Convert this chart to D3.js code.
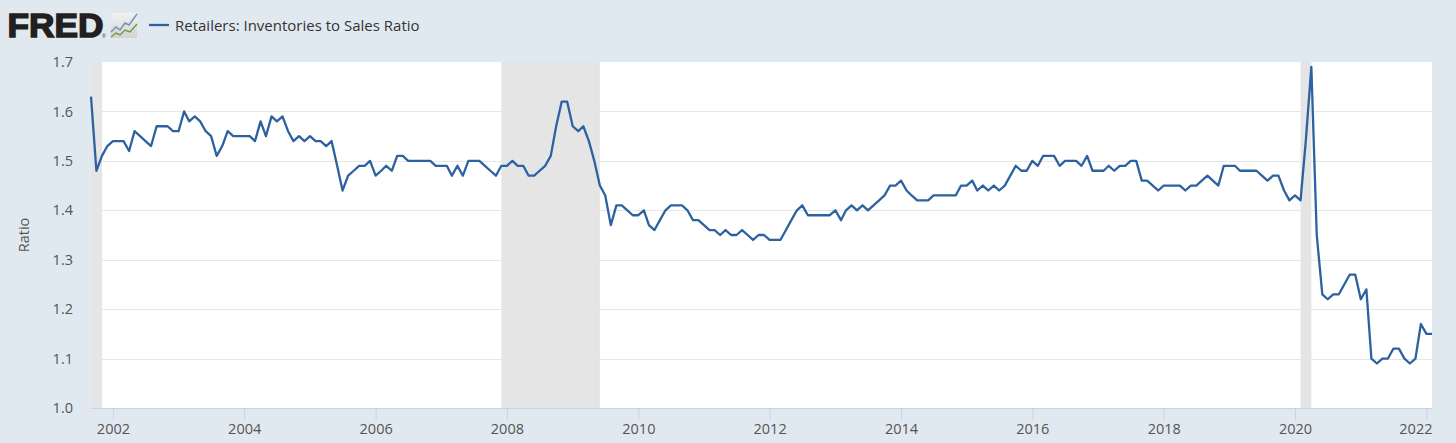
<!DOCTYPE html>
<html><head><meta charset="utf-8">
<script src="https://cdnjs.cloudflare.com/ajax/libs/d3/7.8.5/d3.min.js"></script>
<style>html,body{margin:0;padding:0;background:#e1e9f0;overflow:hidden}svg{display:block}</style>
</head><body><svg id="c" width="1456" height="443"></svg>
<script>
const seriesName = "Retailers: Inventories to Sales Ratio";
const yLabel = "Ratio";
const startMonth = [2001, 8];
const v2001 = [1.63,1.48,1.51,1.53];
const v2002 = [1.54,1.54,1.54,1.52,1.56,1.55,1.54,1.53,1.57,1.57,1.57,1.56];
const v2003 = [1.56,1.60,1.58,1.59,1.58,1.56,1.55,1.51,1.53,1.56,1.55,1.55];
const v2004 = [1.55,1.55,1.54,1.58,1.55,1.59,1.58,1.59,1.56,1.54,1.55,1.54];
const v2005 = [1.55,1.54,1.54,1.53,1.54,1.49,1.44,1.47,1.48,1.49,1.49,1.50];
const v2006 = [1.47,1.48,1.49,1.48,1.51,1.51,1.50,1.50,1.50,1.50,1.50,1.49];
const v2007 = [1.49,1.49,1.47,1.49,1.47,1.50,1.50,1.50,1.49,1.48,1.47,1.49];
const v2008 = [1.49,1.50,1.49,1.49,1.47,1.47,1.48,1.49,1.51,1.57,1.62,1.62];
const v2009 = [1.57,1.56,1.57,1.54,1.50,1.45,1.43,1.37,1.41,1.41,1.40,1.39];
const v2010 = [1.39,1.40,1.37,1.36,1.38,1.40,1.41,1.41,1.41,1.40,1.38,1.38];
const v2011 = [1.37,1.36,1.36,1.35,1.36,1.35,1.35,1.36,1.35,1.34,1.35,1.35];
const v2012 = [1.34,1.34,1.34,1.36,1.38,1.40,1.41,1.39,1.39,1.39,1.39,1.39];
const v2013 = [1.40,1.38,1.40,1.41,1.40,1.41,1.40,1.41,1.42,1.43,1.45,1.45];
const v2014 = [1.46,1.44,1.43,1.42,1.42,1.42,1.43,1.43,1.43,1.43,1.43,1.45];
const v2015 = [1.45,1.46,1.44,1.45,1.44,1.45,1.44,1.45,1.47,1.49,1.48,1.48];
const v2016 = [1.50,1.49,1.51,1.51,1.51,1.49,1.50,1.50,1.50,1.49,1.51,1.48];
const v2017 = [1.48,1.48,1.49,1.48,1.49,1.49,1.50,1.50,1.46,1.46,1.45,1.44];
const v2018 = [1.45,1.45,1.45,1.45,1.44,1.45,1.45,1.46,1.47,1.46,1.45,1.49];
const v2019 = [1.49,1.49,1.48,1.48,1.48,1.48,1.47,1.46,1.47,1.47,1.44,1.42];
const v2020 = [1.43,1.42,1.54,1.69,1.35,1.23,1.22,1.23,1.23,1.25,1.27,1.27];
const v2021 = [1.22,1.24,1.10,1.09,1.10,1.10,1.12,1.12,1.10,1.09,1.10,1.17];
const v2022 = [1.15,1.15];
const values = [].concat(v2001,v2002,v2003,v2004,v2005,v2006,v2007,v2008,v2009,v2010,v2011,v2012,v2013,v2014,v2015,v2016,v2017,v2018,v2019,v2020,v2021,v2022);
const recessions = [["2001-09-01","2001-11-01"],["2007-12-01","2009-06-01"],["2020-02-01","2020-04-01"]];
const xTickYears = [2002,2004,2006,2008,2010,2012,2014,2016,2018,2020,2022];
const yTicks = [1.0,1.1,1.2,1.3,1.4,1.5,1.6,1.7];

const font = "'Open Sans', sans-serif";
const L=91, R=1432, T=62, B=408;
const svg = d3.select("#c");
const data = values.map((v,i)=>({d:new Date(Date.UTC(startMonth[0],startMonth[1]+i,1)),v}));
const x = d3.scaleUtc().domain([data[0].d,data[data.length-1].d]).range([L,R]);
const y = d3.scaleLinear().domain([1.0,1.7]).range([B,T]);

svg.append("rect").attr("x",L).attr("y",T).attr("width",R-L).attr("height",B-T).attr("fill","#fff");

svg.append("g").selectAll("rect").data(recessions).join("rect")
  .attr("x",d=>x(new Date(d[0]+"T00:00:00Z"))).attr("y",T)
  .attr("width",d=>x(new Date(d[1]+"T00:00:00Z"))-x(new Date(d[0]+"T00:00:00Z")))
  .attr("height",B-T).attr("fill","#e5e5e5");

svg.append("g").selectAll("line").data(yTicks.slice(1,-1)).join("line")
  .attr("x1",L).attr("x2",R).attr("y1",d=>Math.round(y(d))+.5).attr("y2",d=>Math.round(y(d))+.5)
  .attr("stroke","#e6e6e6").attr("stroke-width",1);

// y axis labels
const yAxis = svg.append("g").attr("transform",`translate(${L},0)`)
  .call(d3.axisLeft(y).tickValues(yTicks).tickFormat(d3.format(".1f")).tickSize(0).tickPadding(18));
yAxis.select(".domain").remove();
yAxis.selectAll("text").attr("font-family",font).attr("font-size",14.5).attr("fill","#555").attr("dy",".32em");

// x axis
const xAxis = svg.append("g").attr("transform",`translate(0,${B})`)
  .call(d3.axisBottom(x).tickValues(xTickYears.map(t=>new Date(Date.UTC(t,0,1)))).tickFormat(d3.utcFormat("%Y")).tickSize(12).tickPadding(4));
xAxis.select(".domain").attr("stroke","#c6d3ea").attr("stroke-width",1).attr("d",`M${L},0.5H${R}`);
xAxis.selectAll(".tick line").attr("stroke","#c6d3ea");
xAxis.selectAll("text").attr("font-family",font).attr("font-size",14.5).attr("fill","#555");
// the last label stays inside the plot's right edge
xAxis.selectAll(".tick").filter((d,i)=>i===xTickYears.length-1).select("text").attr("text-anchor","end").attr("dx",R-x(new Date(Date.UTC(2022,0,1))));

svg.append("text").attr("transform","translate(29,235) rotate(-90)").attr("text-anchor","middle")
  .attr("font-family",font).attr("font-size",14.5).attr("fill","#555").text(yLabel);

svg.append("path").datum(data)
  .attr("d",d3.line().x(d=>x(d.d)).y(d=>y(d.v)))
  .attr("fill","none").attr("stroke","#2c62a0").attr("stroke-width",2.3).attr("stroke-linejoin","round");

// header: logo
svg.append("text").attr("x",7.5).attr("y",37).attr("font-family","'Liberation Sans',sans-serif").attr("font-weight",700)
  .attr("font-size",34).attr("fill","#231f20").attr("stroke","#231f20").attr("stroke-width",1.5)
  .attr("textLength",96).attr("lengthAdjust","spacingAndGlyphs").text("FRED");
svg.append("text").attr("x",102).attr("y",38).attr("font-family","'Liberation Sans',sans-serif").attr("font-size",5).attr("fill","#231f20").text("®");
const defs = svg.append("defs");
const g = defs.append("linearGradient").attr("id","ic").attr("x1",0).attr("y1",0).attr("x2",0).attr("y2",1);
g.append("stop").attr("offset","0").attr("stop-color","#f2f2f2");
g.append("stop").attr("offset","1").attr("stop-color","#d2d2d2");
const icon = svg.append("g").attr("transform","translate(111,13)");
icon.append("rect").attr("width",26).attr("height",25).attr("rx",1.5).attr("fill","url(#ic)");
const iconLine = d3.line();
icon.append("path").attr("d",iconLine([[0,19],[5,14],[9,17],[14,10],[18,12],[26,1]])).attr("fill","none").attr("stroke","#6f94ad").attr("stroke-width",1.4);
icon.append("path").attr("d",iconLine([[0,24],[5,20],[9,22],[14,17],[19,19],[26,11]])).attr("fill","none").attr("stroke","#6d9a3c").attr("stroke-width",1.4);

// legend
svg.append("line").attr("x1",149).attr("x2",169).attr("y1",25).attr("y2",25).attr("stroke","#2c62a0").attr("stroke-width",2.3);
svg.append("text").attr("x",175).attr("y",31).attr("font-family",font).attr("font-size",15).attr("fill","#333").text(seriesName);
</script></body></html>
